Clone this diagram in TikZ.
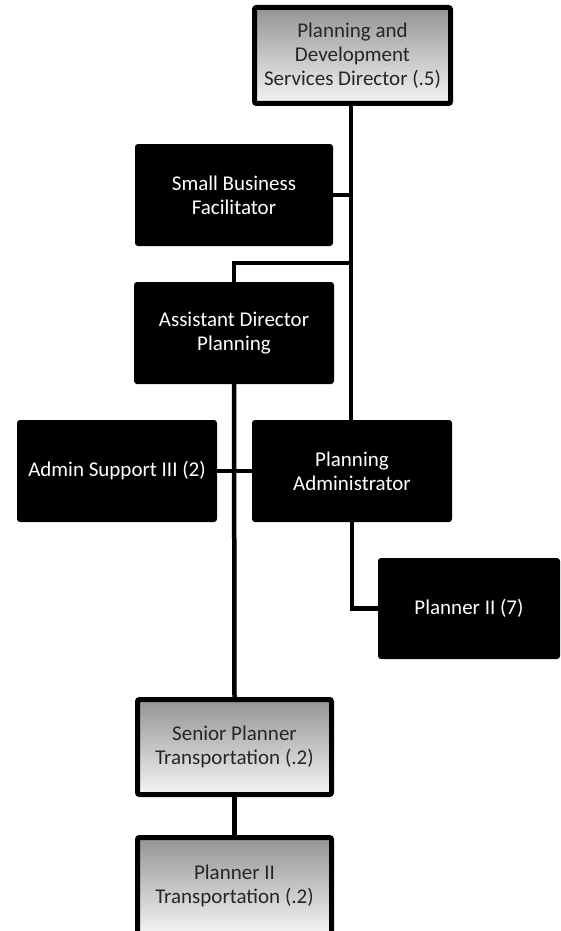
\documentclass[tikz,border=0pt]{standalone}
\usepackage{fontspec}
\setmainfont{Carlito}
\begin{document}
\begin{tikzpicture}[x=1pt,y=-1pt,
  blackbox/.style={rectangle,rounded corners=3pt,fill=black,text=white,align=center,
    font=\fontsize{21}{24}\selectfont,inner sep=0pt},
  graybox/.style={rectangle,rounded corners=2pt,draw=black,line width=5pt,top color=black!42,bottom color=black!4,
    text=black!85,align=center,font=\fontsize{21}{24}\selectfont,inner sep=0pt},
  conn/.style={line width=4.5pt,black}]
\clip (0,0) rectangle (560,931);
\fill[white] (0,0) rectangle (560,931);
% nodes
\node[graybox,minimum width=196pt,minimum height=96pt] (dir) at (352.5,55.5) {Planning and\\Development\\Services Director (.5)};
\node[blackbox,minimum width=198pt,minimum height=102pt] (sbf) at (234,195) {Small Business\\Facilitator};
\node[blackbox,minimum width=200pt,minimum height=102pt] (asd) at (234,333) {Assistant Director\\Planning};
\node[blackbox,minimum width=200pt,minimum height=102pt] (adm) at (117,471) {Admin Support III (2)};
\node[blackbox,minimum width=200pt,minimum height=102pt] (pa) at (352,471) {Planning\\Administrator};
\node[blackbox,minimum width=182pt,minimum height=101pt] (p2) at (469,608.5) {Planner II (7)};
\node[graybox,minimum width=194pt,minimum height=95pt] (sen) at (234.5,747) {Senior Planner\\Transportation (.2)};
\node[graybox,minimum width=194pt,minimum height=97pt] (pt) at (234.5,886) {Planner II\\Transportation (.2)};
% connectors
\coordinate (j) at (351,263);
\draw[conn] (dir.south -| j) -- (pa.north -| j);
\draw[conn] (sbf.east) -- (sbf.east -| j);
\draw[conn] (j) -| (asd.north);
\draw[conn] (asd.south) -- (sen.north);
\draw[conn] (adm.east) -- (pa.west);
\draw[conn] (pa.south) |- (p2.west);
\draw[conn] (sen.south) -- (pt.north);
\end{tikzpicture}
\end{document}
